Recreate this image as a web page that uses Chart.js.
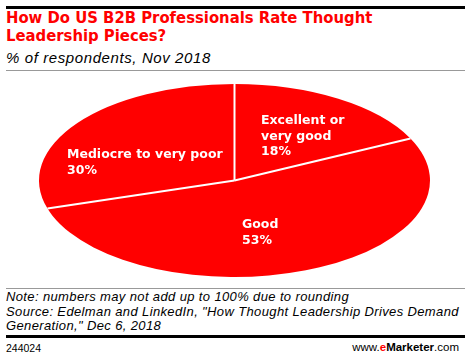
<!DOCTYPE html>
<html>
<head>
<meta charset="utf-8">
<script src="https://cdn.jsdelivr.net/npm/chart.js@4"></script>
<style>
  html, body { margin: 0; padding: 0; background: #fff; overflow: hidden; }
  body { width: 470px; height: 358px; position: relative; font-family: "Liberation Sans", Arial, sans-serif; color: #000; }
  .rule { position: absolute; left: 6px; width: 459px; }
  .thick { height: 3px; background: #000; }
  .thin { height: 1px; background: #999; }
  #title { position: absolute; left: 6px; top: 9px; font-family: "DejaVu Sans Condensed", "DejaVu Sans", sans-serif; font-size: 16.5px; line-height: 17.5px; font-weight: bold; color: #f00; }
  #subtitle { position: absolute; left: 6px; top: 49px; font-size: 15px; letter-spacing: 0.6px; font-style: italic; }
  #notes { position: absolute; left: 6px; top: 290px; font-size: 13px; line-height: 14.5px; letter-spacing: 0.37px; font-style: italic; }
  #code { position: absolute; left: 6px; top: 342px; font-size: 10.5px; }
  #brand { position: absolute; right: 11px; top: 341px; font-size: 11.5px; }
  #brand b { font-weight: bold; }
  #pie { position: absolute; left: 0; top: 72px; }
</style>
</head>
<body>
<div class="rule thick" style="top:6px"></div>
<div id="title">How Do US B2B Professionals Rate Thought<br>Leadership Pieces?</div>
<div id="subtitle">% of respondents, Nov 2018</div>
<div class="rule thin" style="top:70px"></div>

<canvas id="pie" width="470" height="214"></canvas>

<div class="rule thin" style="top:288px"></div>
<div id="notes">Note: numbers may not add up to 100% due to rounding<br>Source: Edelman and LinkedIn, "How Thought Leadership Drives Demand<br>Generation," Dec 6, 2018</div>
<div class="rule thick" style="top:335px"></div>
<div id="code">244024</div>
<div id="brand">www.<b style="color:#f00">e</b><b>Marketer</b>.com</div>

<script>
const categories = ['Excellent or very good', 'Good', 'Mediocre to very poor'];
const labelLines = [['Excellent or', 'very good'], ['Good'], ['Mediocre to very poor']];
const shares = [18, 53, 30];

const RX = 195.5;
const RY = 96.5;
// where each label's first baseline sits, relative to the pie centre
const labelOffsets = [[26.5, -56.2], [7.5, 47.8], [-167.5, -22.2]];

// squash the round pie into an ellipse, then draw separators + labels flat
const ellipsePlugin = {
  id: 'ellipse',
  beforeDatasetsDraw(chart) {
    const arc = chart.getDatasetMeta(0).data[0];
    const ctx = chart.ctx;
    ctx.save();
    ctx.translate(arc.x, arc.y);
    ctx.scale(1, RY / arc.outerRadius);
    ctx.translate(-arc.x, -arc.y);
  },
  afterDatasetsDraw(chart) {
    const ctx = chart.ctx;
    ctx.restore();
    const arcs = chart.getDatasetMeta(0).data;

    ctx.save();
    ctx.strokeStyle = '#fff';
    ctx.lineWidth = 2;
    arcs.forEach(arc => {
      const k = RY / arc.outerRadius;
      ctx.beginPath();
      ctx.moveTo(arc.x, arc.y);
      ctx.lineTo(arc.x + arc.outerRadius * Math.cos(arc.startAngle),
                 arc.y + arc.outerRadius * k * Math.sin(arc.startAngle));
      ctx.stroke();
    });

    ctx.fillStyle = '#fff';
    ctx.font = 'bold 12.5px "DejaVu Sans", sans-serif';
    ctx.textAlign = 'left';
    ctx.textBaseline = 'alphabetic';
    arcs.forEach((arc, i) => {
      const lines = labelLines[i].concat([shares[i] + '%']);
      const x = arc.x + labelOffsets[i][0];
      let y = arc.y + labelOffsets[i][1];
      lines.forEach(line => {
        ctx.fillText(line, x, y);
        y += 15.3;
      });
    });
    ctx.restore();
  }
};

new Chart(document.getElementById('pie'), {
  type: 'pie',
  data: {
    labels: categories,
    datasets: [{
      data: shares,
      backgroundColor: '#ff0000',
      borderWidth: 0,
      radius: RX
    }]
  },
  options: {
    responsive: false,
    animation: false,
    layout: { padding: { top: 3, right: 1 } },
    plugins: {
      legend: { display: false },
      tooltip: { enabled: false }
    }
  },
  plugins: [ellipsePlugin]
});
</script>
</body>
</html>
